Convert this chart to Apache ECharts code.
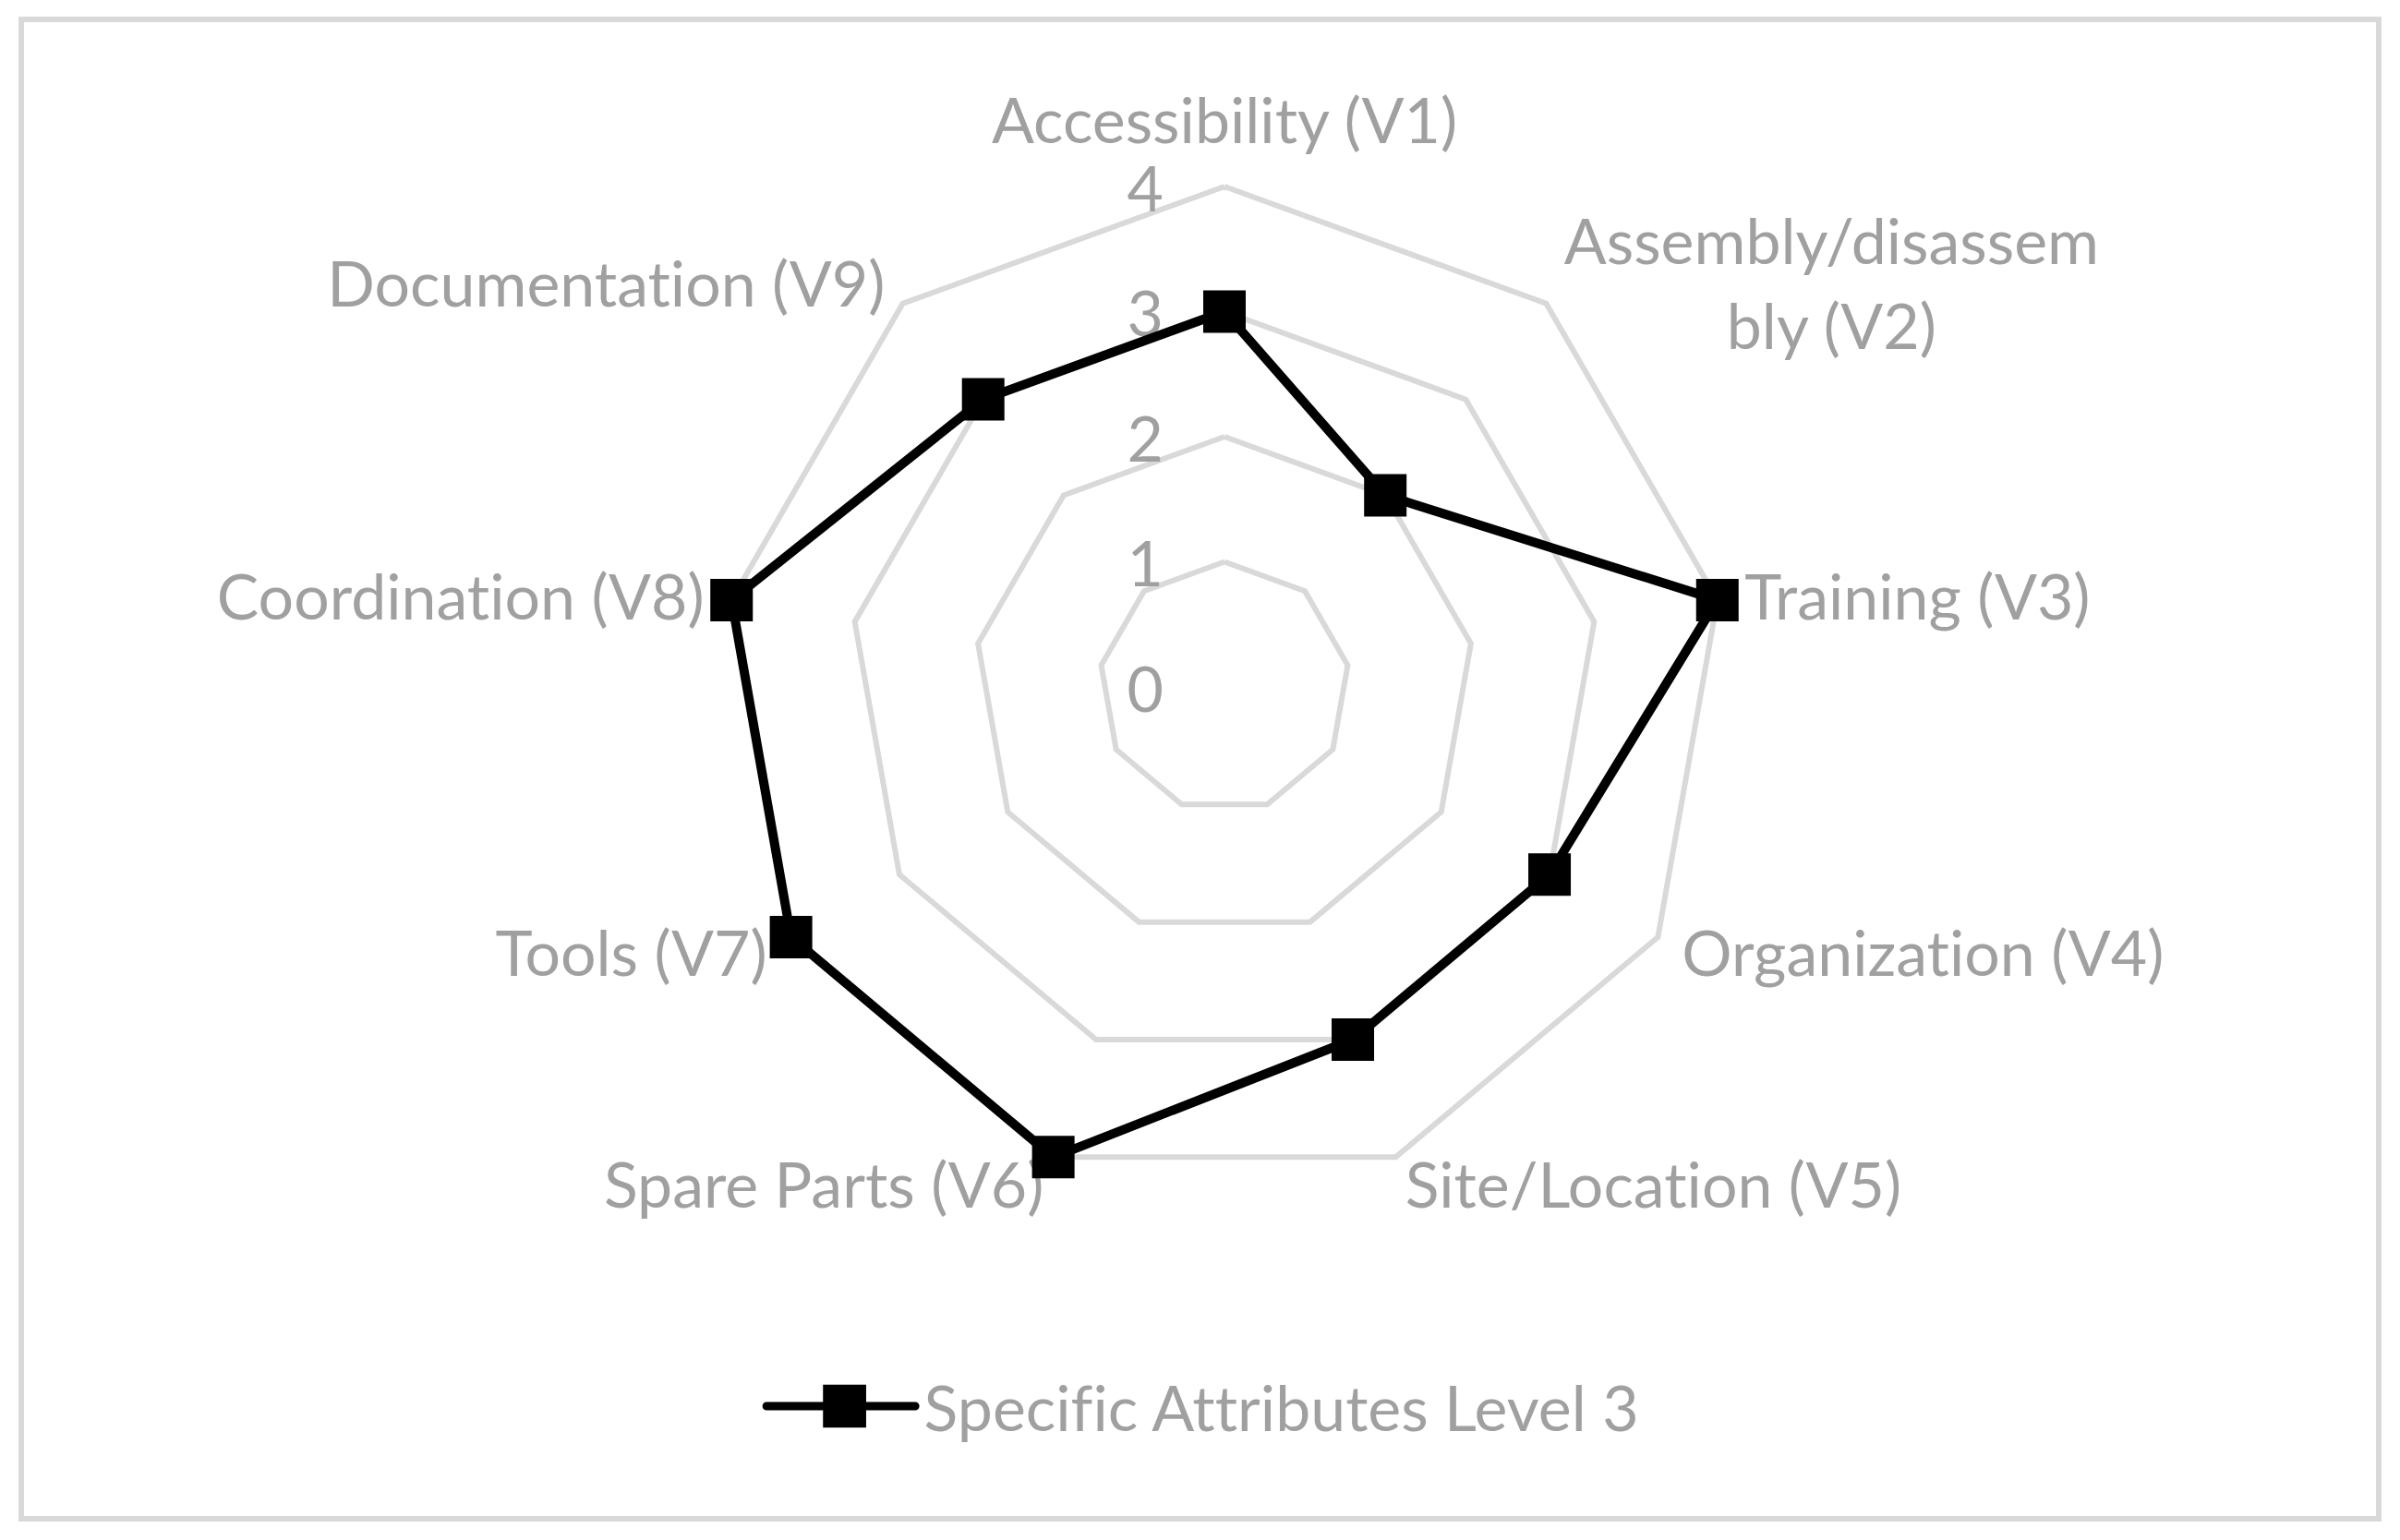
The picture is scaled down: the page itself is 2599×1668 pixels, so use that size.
<!DOCTYPE html>
<html>
<head>
<meta charset="utf-8">
<script src="https://cdn.jsdelivr.net/npm/echarts@6/dist/echarts.min.js"></script>
<style>
html, body { margin: 0; padding: 0; background: #ffffff; }
#chart { width: 2599px; height: 1668px; }
#chart, #chart svg, #chart text, #chart tspan {
  font-variant-ligatures: none !important;
  font-feature-settings: "liga" 0, "clig" 0, "calt" 0, "dlig" 0 !important;
  text-rendering: optimizeSpeed !important;
}
</style>
</head>
<body>
<div id="chart"></div>
<script>
// ---- data (clockwise from the top) ----
const categories = [
  'Accessibility (V1)',
  'Assembly/disassem\nbly (V2)',
  'Training (V3)',
  'Organization (V4)',
  'Site/Location (V5)',
  'Spare Parts (V6)',
  'Tools (V7)',
  'Coordination (V8)',
  'Documentation (V9)'
];
const seriesName = 'Specific Attributes Level 3';
const values = [3, 2, 4, 3, 3, 4, 4, 4, 3];
const axisMin = 0;
const axisMax = 4;
const tickLabels = ['0', '1', '2', '3', '4'];

// ECharts radar runs counter-clockwise; reorder so the picture runs clockwise
const order = [0].concat(categories.map((_, i) => i).slice(1).reverse());
const indicators = order.map((idx, k) => {
  const ind = { name: categories[idx], min: axisMin, max: axisMax };
  if (k === 0) ind.axisLabel = { show: true };
  return ind;
});
const radarValues = order.map(idx => values[idx]);

const FONT = 'Lato';
const TXT = '#a0a0a0';

const chart = echarts.init(document.getElementById('chart'), null, { renderer: 'svg' });
chart.setOption({
  backgroundColor: '#ffffff',
  animation: false,
  graphic: [{
    type: 'rect',
    shape: { x: 23, y: 21, width: 2553, height: 1624 },
    style: { fill: 'none', stroke: '#d9d9d9', lineWidth: 6 },
    silent: true, z: -10
  }],
  legend: {
    data: [seriesName],
    left: 'center',
    top: 1484,
    itemWidth: 170,
    itemHeight: 47,
    itemGap: 14,
    icon: 'path://M4,19 L65.5,19 L65.5,0 L112.5,0 L112.5,19 L166,19 A4.5,4.5 0 0 1 166,28 L112.5,28 L112.5,47 L65.5,47 L65.5,28 L4,28 A4.5,4.5 0 0 1 4,19 Z',
    textStyle: { color: TXT, fontFamily: FONT, fontSize: 68 },
    selectedMode: false
  },
  radar: {
    center: [1326, 744],
    radius: 542,
    startAngle: 90,
    splitNumber: 4,
    shape: 'polygon',
    indicator: indicators,
    nameGap: 30,
    axisName: {
      color: TXT,
      fontFamily: FONT,
      fontSize: 68,
      formatter: function (name) {
        if (name.indexOf('\n') >= 0) {
          return name.split('\n').map(s => '{c|' + s + '}').join('\n');
        }
        if (name === categories[0]) {
          return '{t|' + name + '}';
        }
        return name;
      },
      rich: {
        c: { align: 'center', color: TXT, fontFamily: FONT, fontSize: 68, lineHeight: 92 },
        t: { color: TXT, fontFamily: FONT, fontSize: 68, padding: [0, 0, 10, 0] }
      }
    },
    axisLine: { show: false },
    axisTick: { show: false },
    axisLabel: {
      show: false, color: TXT, fontFamily: FONT, fontSize: 68, margin: 66,
      formatter: function (v) { return tickLabels[Math.round(v)] || String(v); }
    },
    splitLine: { lineStyle: { color: '#d9d9d9', width: 6 } },
    splitArea: { show: false }
  },
  series: [{
    name: seriesName,
    type: 'radar',
    symbol: 'rect',
    symbolSize: 46,
    lineStyle: { color: '#000000', width: 10 },
    itemStyle: { color: '#000000' },
    data: [{ value: radarValues, name: seriesName }]
  }]
});
</script>
</body>
</html>
